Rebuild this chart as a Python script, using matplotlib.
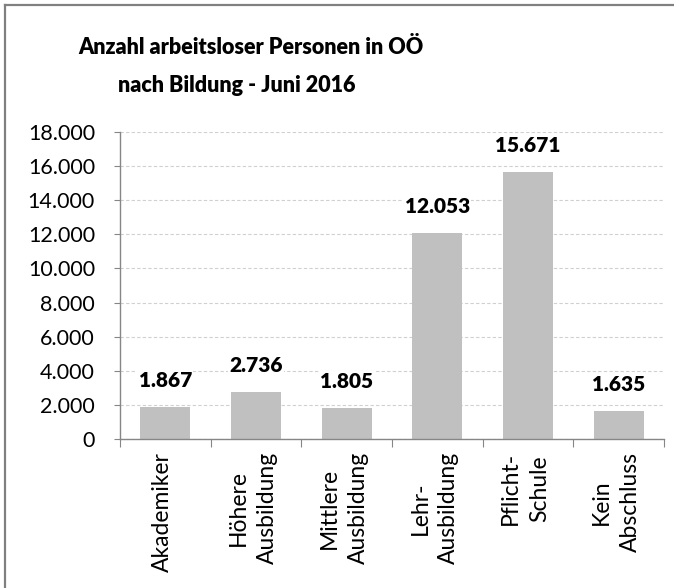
import matplotlib.pyplot as plt
from matplotlib.lines import Line2D
from matplotlib.ticker import FuncFormatter, FixedLocator

categories = ["Akademiker", "Höhere\nAusbildung", "Mittlere\nAusbildung",
              "Lehr-\nAusbildung", "Pflicht-\nSchule", "Kein\nAbschluss"]
values = [1867, 2736, 1805, 12053, 15671, 1635]
yticks = list(range(0, 18001, 2000))

plt.rcParams['font.family'] = ['Lato', 'DejaVu Sans']

def de_fmt(v, pos=None):
    return f"{int(v):,}".replace(",", ".")

fig = plt.figure(figsize=(6.74, 5.88), dpi=100)
ax = fig.add_axes([120/674, 1-439/588, 544/674, 307/588])

x = list(range(len(values)))
ax.bar(x, values, width=0.55, color="#c0c0c0", zorder=2)
ax.set_xlim(-0.5, len(values) - 0.5)
ax.set_ylim(0, 18000)
ax.set_yticks(yticks)
ax.yaxis.set_major_formatter(FuncFormatter(de_fmt))
ax.grid(axis="y", color="#d0d0d0", linestyle=(0, (3, 2)), linewidth=0.8, zorder=0)

for s in ["top", "right"]:
    ax.spines[s].set_visible(False)
for s in ["left", "bottom"]:
    ax.spines[s].set_color("#868686")
    ax.spines[s].set_linewidth(1.0)

ax.tick_params(axis="y", length=4, color="#868686", labelsize=15.5, pad=14)
# x ticks sit between categories, labels in the middle
ax.xaxis.set_major_locator(FixedLocator([i - 0.5 for i in range(len(values) + 1)]))
ax.xaxis.set_ticklabels([])
ax.tick_params(axis="x", length=6, color="#868686")

for i, cat in enumerate(categories):
    ax.annotate(cat, xy=(i, 0), xycoords="data", xytext=(-3, -13),
                textcoords="offset pixels", rotation=90, ha="center", va="top",
                multialignment="center", fontsize=16.5, linespacing=1.45)

for i, v in enumerate(values):
    ax.annotate(de_fmt(v), xy=(i, v), xytext=(0, 17), textcoords="offset pixels",
                ha="center", va="bottom", fontsize=15, fontweight="heavy",
                bbox=dict(facecolor="white", edgecolor="none", pad=1), zorder=3)

fig.text(251/674, 1-48/588, "Anzahl arbeitsloser Personen in OÖ", ha="center",
         va="center", fontsize=15.5, fontweight="heavy")
fig.text(237/674, 1-85/588, "nach Bildung - Juni 2016", ha="center",
         va="center", fontsize=15.5, fontweight="heavy")

# frame of the chart area (only top and left visible in the crop)
fig.add_artist(Line2D([5/674, 1], [1-5/588, 1-5/588], transform=fig.transFigure,
                      color="#808080", linewidth=1.6))
fig.add_artist(Line2D([5/674, 5/674], [0, 1-5/588], transform=fig.transFigure,
                      color="#808080", linewidth=1.6))

fig.savefig("out.png", dpi=100)
